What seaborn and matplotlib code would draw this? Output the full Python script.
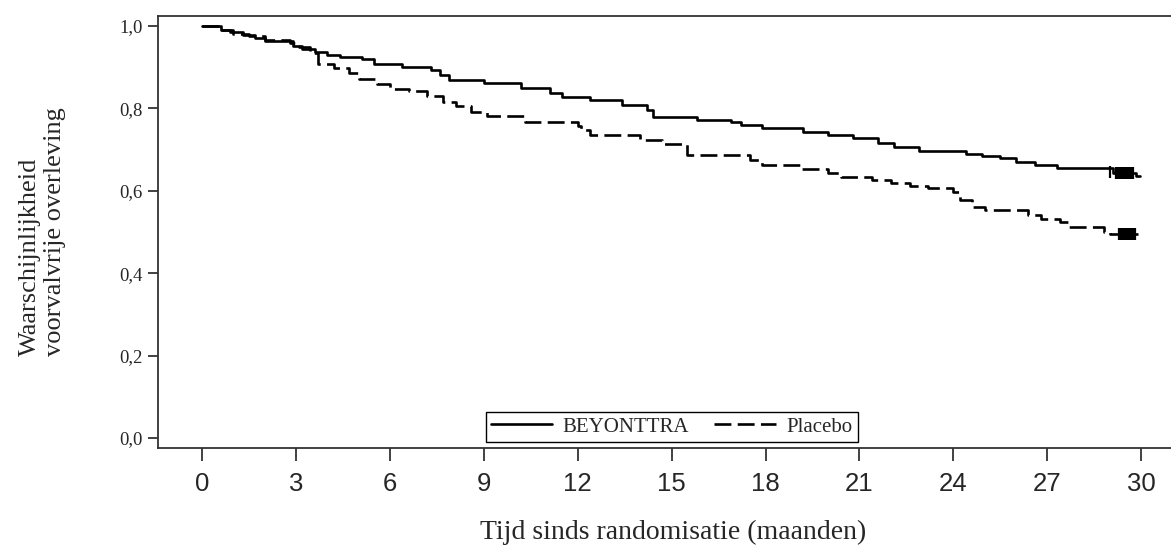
import numpy as np
import pandas as pd
import matplotlib
matplotlib.use('Agg')
import matplotlib.pyplot as plt
import seaborn as sns

# Kaplan-Meier curves (maanden, overlevingskans)
beyonttra_months = [0.0, 0.6, 0.9, 1.3, 1.7, 2.0, 2.9, 3.2, 3.6, 4.0, 4.4, 5.1, 5.5,
                    6.4, 7.3, 7.6, 7.9, 9.0, 10.2, 11.1, 11.5, 12.4, 13.4, 14.2, 14.4,
                    15.8, 16.9, 17.2, 17.9, 19.2, 20.0, 20.8, 21.6, 22.1, 22.9, 24.4,
                    24.9, 25.5, 26.0, 26.6, 27.3, 29.1, 29.85, 29.95]
beyonttra_surv = [1.0, 0.99, 0.985, 0.978, 0.97, 0.963, 0.952, 0.945, 0.938, 0.93, 0.924,
                  0.919, 0.907, 0.900, 0.893, 0.88, 0.869, 0.862, 0.85, 0.838, 0.828, 0.82,
                  0.808, 0.796, 0.78, 0.773, 0.768, 0.76, 0.752, 0.742, 0.735, 0.728,
                  0.715, 0.707, 0.696, 0.69, 0.685, 0.680, 0.671, 0.663, 0.655, 0.642,
                  0.637, 0.637]

placebo_months = [0.0, 0.6, 1.0, 1.5, 2.0, 2.8, 3.1, 3.45, 3.7, 4.2, 4.7, 5.0, 5.6, 6.0,
                  6.6, 7.2, 7.7, 8.1, 8.6, 9.1, 10.3, 12.0, 12.1, 12.4, 14.0, 14.7, 15.5,
                  17.5, 17.9, 19.1, 20.0, 20.4, 21.4, 22.0, 22.6, 23.2, 24.0, 24.2, 24.6,
                  25.0, 26.4, 26.8, 27.4, 27.7, 28.8, 29.0, 29.9]
placebo_surv = [1.0, 0.99, 0.98, 0.975, 0.965, 0.958, 0.95, 0.935, 0.908, 0.898, 0.887,
                0.871, 0.86, 0.847, 0.841, 0.829, 0.815, 0.805, 0.79, 0.782, 0.768, 0.757,
                0.748, 0.735, 0.723, 0.714, 0.687, 0.675, 0.663, 0.652, 0.642, 0.634,
                0.627, 0.618, 0.612, 0.606, 0.596, 0.578, 0.561, 0.553, 0.541, 0.531,
                0.525, 0.513, 0.501, 0.495, 0.495]

# gecensureerde waarnemingen aan het eind
beyonttra_censor = [29.0, 29.2, 29.25, 29.3, 29.35, 29.4, 29.45, 29.5, 29.55, 29.6,
                    29.65, 29.7, 29.75]
beyonttra_censor_surv = [0.645, 0.642, 0.642, 0.642, 0.642, 0.642, 0.642, 0.642, 0.642,
                         0.642, 0.642, 0.642, 0.642]
placebo_censor = [29.3, 29.35, 29.4, 29.45, 29.5, 29.55, 29.6, 29.65, 29.7, 29.75, 29.8]
placebo_censor_surv = [0.495, 0.495, 0.495, 0.495, 0.495, 0.495, 0.495, 0.495, 0.495,
                       0.495, 0.495]

x_ticks = [0, 3, 6, 9, 12, 15, 18, 21, 24, 27, 30]
y_ticks = [0.0, 0.2, 0.4, 0.6, 0.8, 1.0]
y_tick_labels = ['0,0', '0,2', '0,4', '0,6', '0,8', '1,0']

df = pd.concat([
    pd.DataFrame({'maand': beyonttra_months, 'overleving': beyonttra_surv, 'arm': 'BEYONTTRA'}),
    pd.DataFrame({'maand': placebo_months, 'overleving': placebo_surv, 'arm': 'Placebo'}),
], ignore_index=True)

sns.set_style('ticks')
plt.rcParams['font.family'] = ['Liberation Serif', 'DejaVu Serif']

fig = plt.figure(figsize=(11.71, 5.45), dpi=100)
ax = fig.add_axes([0.1349, 0.178, 0.8685, 0.7927])

sns.lineplot(data=df, x='maand', y='overleving', style='arm',
             style_order=['BEYONTTRA', 'Placebo'],
             dashes={'BEYONTTRA': '', 'Placebo': (6.4, 2.4)},
             color='black', linewidth=1.9, drawstyle='steps-post',
             estimator=None, sort=False, ax=ax)

# censuurmarkeringen
ax.plot(beyonttra_censor, beyonttra_censor_surv, ls='none', marker='|', ms=9, mew=1.6, color='black')
ax.plot(placebo_censor, placebo_censor_surv, ls='none', marker='|', ms=9, mew=1.6, color='black')

ax.set_xlim(-1.41, 31.08)
ax.set_ylim(-0.0243, 1.0243)
ax.set_xticks(x_ticks)
ax.set_yticks(y_ticks)
ax.set_yticklabels(y_tick_labels)

for side in ['left', 'right', 'top', 'bottom']:
    ax.spines[side].set_visible(True)
    ax.spines[side].set_color('#333333')
    ax.spines[side].set_linewidth(1.3)

ax.tick_params(axis='y', length=7, width=1.3, pad=4, labelsize=13.5, color='#333333')
ax.tick_params(axis='x', length=9, width=1.3, pad=8, labelsize=18.5, color='#333333')
for lbl in ax.get_xticklabels():
    lbl.set_family(['Liberation Sans', 'DejaVu Sans'])

ax.set_xlabel('Tijd sinds randomisatie (maanden)', fontsize=20)
ax.xaxis.set_label_coords(0.507, -0.166)
ax.set_ylabel('Waarschijnlijkheid\nvoorvalvrije overleving', fontsize=19, multialignment='left')
ax.yaxis.set_label_coords(-0.09, 0.5)

handles, labels = ax.get_legend_handles_labels()
keep = [(h, l) for h, l in zip(handles, labels) if l in ('BEYONTTRA', 'Placebo')]
leg = ax.legend([h for h, l in keep], [l for h, l in keep], ncol=2, loc='lower center',
                bbox_to_anchor=(15.0, -0.0097), bbox_transform=ax.transData,
                fontsize=15, frameon=True, fancybox=False, framealpha=1,
                edgecolor='black', handlelength=2.95, handletextpad=0.5,
                columnspacing=1.2, borderpad=0.25, borderaxespad=0)
leg.get_frame().set_linewidth(1.0)

fig.savefig('out.png', dpi=100)
